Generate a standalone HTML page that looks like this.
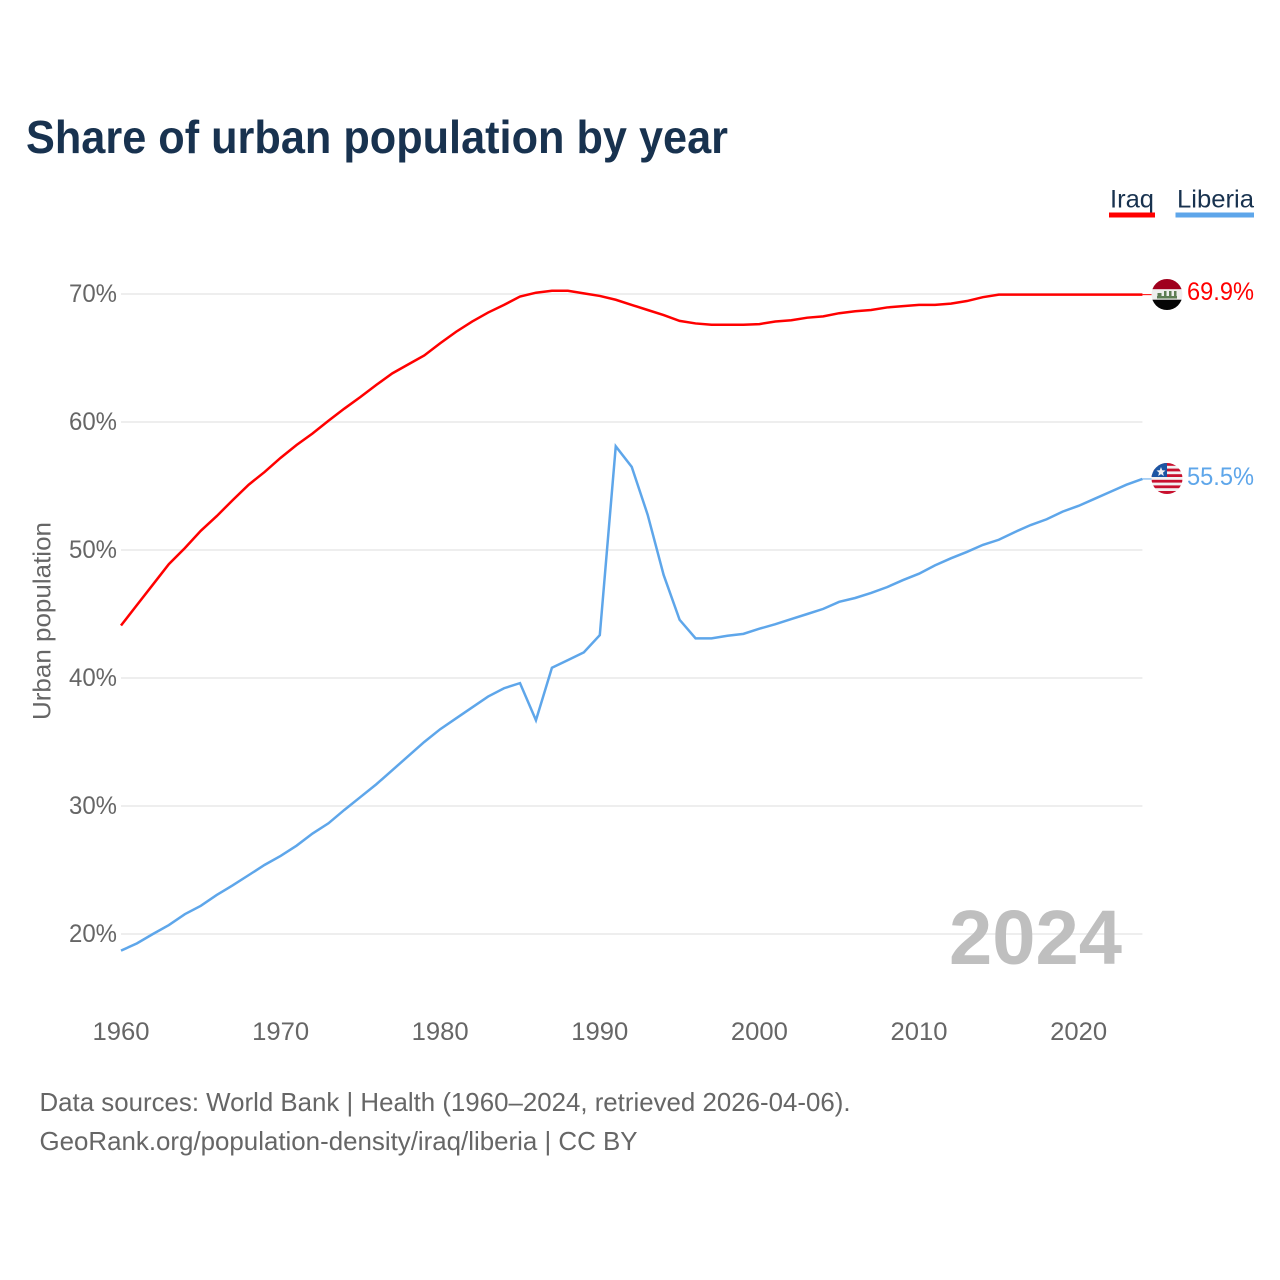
<!DOCTYPE html>
<html lang="en">
<head>
<meta charset="utf-8">
<title>Share of urban population by year</title>
<style>
html,body{margin:0;padding:0;background:#fff;width:1280px;height:1280px;overflow:hidden}
svg{display:block}
text{font-family:"Liberation Sans",sans-serif}
</style>
</head>
<body>
<svg id="chart" xmlns="http://www.w3.org/2000/svg" width="1280" height="1280" viewBox="0 0 1280 1280">
  <defs>
    <clipPath id="flag-clip-iraq"><circle cx="1167" cy="294.500" r="15.500"/></clipPath>
    <clipPath id="flag-clip-liberia"><circle cx="1167" cy="478.500" r="15.500"/></clipPath>
  </defs>
  <rect width="1280" height="1280" fill="#ffffff"/>
  <text x="26" y="153" font-size="46" font-weight="700" fill="#18324f" textLength="702" lengthAdjust="spacingAndGlyphs">Share of urban population by year</text>

  <g>
    <g>
      <text x="1110" y="207.500" font-size="25" fill="#18324f" textLength="44" lengthAdjust="spacingAndGlyphs">Iraq</text>
      <rect x="1109" y="212.500" width="46" height="5" fill="#ff0000"/>
    </g>
    <g>
      <text x="1177" y="207.500" font-size="25" fill="#18324f" textLength="77" lengthAdjust="spacingAndGlyphs">Liberia</text>
      <rect x="1175.500" y="212.500" width="78.500" height="5" fill="#5ea6ea"/>
    </g>
  </g>

  <g id="grid"></g>
  <g id="y-ticks"></g>
  <g id="x-ticks"></g>
  <text transform="translate(50.500,720) rotate(-90)" x="0" y="0" font-size="25" fill="#666666" textLength="198" lengthAdjust="spacingAndGlyphs">Urban population</text>

  <text x="949" y="964" font-size="77" font-weight="700" fill="#bfbfbf" textLength="173" lengthAdjust="spacingAndGlyphs">2024</text>

  <g id="series"></g>

  <g clip-path="url(#flag-clip-iraq)">
    <rect x="1151" y="279" width="32" height="10.300" fill="#a0001e"/>
    <rect x="1151" y="289.300" width="32" height="10.400" fill="#eeeeee"/>
    <rect x="1151" y="299.700" width="32" height="10.300" fill="#050505"/>
    <rect x="1157" y="296" width="20" height="2.500" fill="#5d7d55"/>
    <rect x="1157.500" y="293" width="4" height="3" fill="#5d7d55"/>
    <rect x="1164" y="291" width="2.500" height="5" fill="#5d7d55"/>
    <rect x="1169" y="291" width="2.500" height="5" fill="#5d7d55"/>
    <rect x="1174" y="291" width="2.500" height="5" fill="#5d7d55"/>
  </g>
  <text id="value-iraq" x="1187" y="300" font-size="25" fill="#ff0000" textLength="67" lengthAdjust="spacingAndGlyphs">69.9%</text>

  <g clip-path="url(#flag-clip-liberia)">
    <rect x="1151" y="463" width="32" height="31" fill="#f2f2f2"/>
    <rect x="1151" y="463" width="32" height="2.800" fill="#c8102e"/>
    <rect x="1151" y="468.600" width="32" height="2.800" fill="#c8102e"/>
    <rect x="1151" y="474.200" width="32" height="2.800" fill="#c8102e"/>
    <rect x="1151" y="479.800" width="32" height="2.800" fill="#c8102e"/>
    <rect x="1151" y="485.400" width="32" height="2.800" fill="#c8102e"/>
    <rect x="1151" y="491" width="32" height="3" fill="#c8102e"/>
    <rect x="1151" y="463" width="16" height="14" fill="#1c55a3"/>
    <polygon points="1161,467 1162.200,470.300 1165.500,470.500 1163,472.600 1163.800,476 1161,474.100 1158.200,476 1159,472.600 1156.500,470.500 1159.800,470.300" fill="#f2f2f2"/>
  </g>
  <text id="value-liberia" x="1187" y="485" font-size="25" fill="#5ea6ea" textLength="67" lengthAdjust="spacingAndGlyphs">55.5%</text>

  <g>
    <text x="39.500" y="1111" font-size="26" fill="#666666" textLength="811" lengthAdjust="spacingAndGlyphs">Data sources: World Bank | Health (1960–2024, retrieved 2026-04-06).</text>
    <text x="39.500" y="1150" font-size="26" fill="#666666" textLength="598" lengthAdjust="spacingAndGlyphs">GeoRank.org/population-density/iraq/liberia | CC BY</text>
  </g>
</svg>
<script>
const firstYear = 1960;
const yTickValues = [20, 30, 40, 50, 60, 70];
const xTickValues = [1960, 1970, 1980, 1990, 2000, 2010, 2020];
const iraqValues = [44.1,45.7,47.3,48.9,50.15,51.5,52.65,53.9,55.1,56.1,57.2,58.2,59.1,60.1,61.05,61.95,62.9,63.8,64.5,65.2,66.15,67.05,67.85,68.55,69.15,69.8,70.1,70.25,70.25,70.05,69.85,69.55,69.15,68.75,68.35,67.9,67.7,67.6,67.6,67.6,67.65,67.85,67.95,68.15,68.25,68.5,68.65,68.75,68.95,69.05,69.15,69.15,69.25,69.45,69.75,69.95,69.95,69.95,69.95,69.95,69.95,69.95,69.95,69.95,69.95];
const liberiaValues = [18.7,19.27,20.0,20.7,21.55,22.2,23.05,23.8,24.6,25.4,26.1,26.9,27.85,28.65,29.7,30.7,31.7,32.8,33.9,35.0,36.0,36.85,37.7,38.55,39.2,39.6,36.7,40.8,41.4,42.0,43.35,58.1,56.5,52.75,48.05,44.55,43.1,43.1,43.3,43.45,43.85,44.2,44.6,45.0,45.4,45.95,46.25,46.65,47.1,47.65,48.15,48.8,49.35,49.85,50.4,50.8,51.4,51.95,52.4,53.0,53.45,54.0,54.55,55.1,55.55];

const SVG_NS = 'http://www.w3.org/2000/svg';
const xScale = year => 121 + (year - 1960) * 15.96;
const yScale = value => 934 - (value - 20) * 12.8;
const plotRight = xScale(2024);

function node(tag, parent, attrs) {
  const el = document.createElementNS(SVG_NS, tag);
  Object.keys(attrs).forEach(k => el.setAttribute(k, attrs[k]));
  parent.appendChild(el);
  return el;
}

const gridGroup = document.getElementById('grid');
const yTickGroup = document.getElementById('y-ticks');
const xTickGroup = document.getElementById('x-ticks');
const seriesGroup = document.getElementById('series');

yTickValues.forEach(v => {
  const line = node('line', gridGroup, {x1: 121, x2: plotRight, y1: yScale(v), y2: yScale(v), stroke: '#eeeeee', 'stroke-width': 2});
  
  
  const label = node('text', yTickGroup, {x: 69, y: yScale(v) + 8, 'font-size': 25, fill: '#666666', textLength: 48, lengthAdjust: 'spacingAndGlyphs'});
  
  
  label.textContent = v + '%';
});

xTickValues.forEach(y => {
  const label = node('text', xTickGroup, {x: xScale(y), y: 1040, 'font-size': 25, fill: '#666666', 'text-anchor': 'middle', textLength: 57, lengthAdjust: 'spacingAndGlyphs'});
  
  
  label.textContent = y;
});

function drawSeries(values, color, name) {
  const last = values[values.length - 1];
  const connector = node('line', seriesGroup, {x1: plotRight, x2: plotRight + 10, y1: yScale(last), y2: yScale(last), stroke: color, 'stroke-width': 1});
  
  
  const pts = values.map((v, i) => xScale(firstYear + i).toFixed(2) + ',' + yScale(v).toFixed(2)).join(' ');
  const line = node('polyline', seriesGroup, {points: pts, fill: 'none', stroke: color, 'stroke-width': 2.5, 'stroke-linejoin': 'miter'});
  
  
}

drawSeries(iraqValues, '#ff0000', 'iraq');
drawSeries(liberiaValues, '#5ea6ea', 'liberia');
</script>
</body>
</html>
